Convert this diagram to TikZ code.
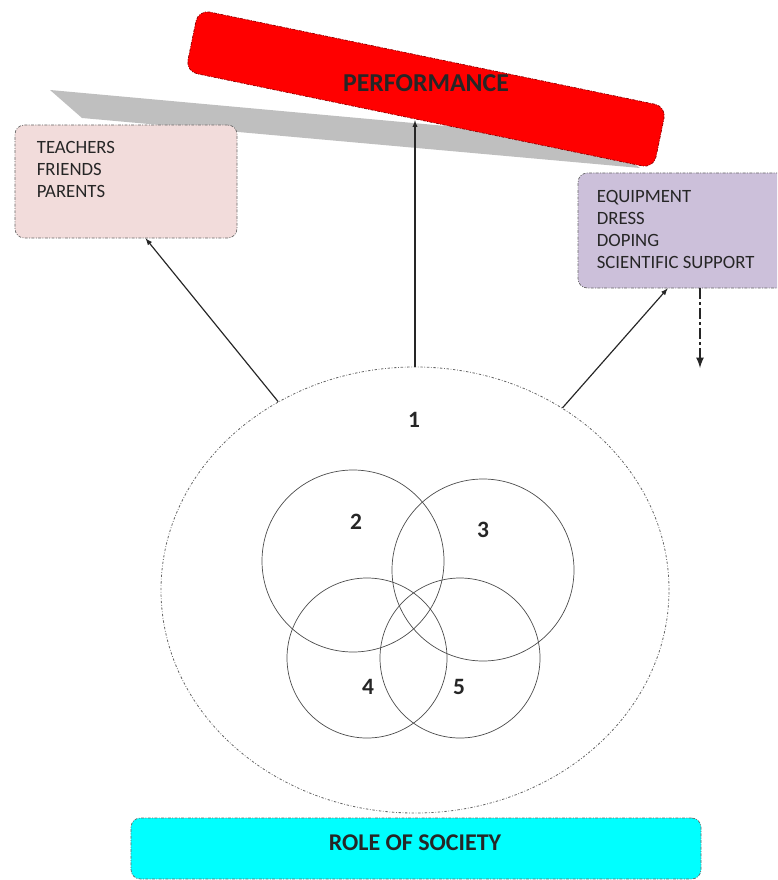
\documentclass[tikz,border=0pt]{standalone}
\usepackage{fontspec}
\setmainfont{Carlito}
\usetikzlibrary{shapes.geometric,arrows,positioning}

\definecolor{peerpink}{HTML}{F2DCDB}
\definecolor{gearlilac}{HTML}{CCC0DA}
\definecolor{plankgray}{HTML}{BFBFBF}
\definecolor{societycyan}{HTML}{00FFFF}

\begin{document}
\begin{tikzpicture}[x=0.03cm, y=-0.03cm]
    \tikzset{
        listbox/.style = {rectangle, draw=black!60, line width=0.6pt, dash pattern=on 2.5pt off 1.2pt on 0.8pt off 1.2pt, rounded corners=8pt, inner sep=0pt},
        listtext/.style = {inner sep=0pt, align=left, anchor=north west, font=\fontsize{16}{18.8}\selectfont, text=black!85},
        bigtext/.style = {inner sep=0pt, font=\fontsize{20}{24}\selectfont\bfseries, text=black!85},
        ring/.style = {circle, draw=black!70, line width=0.6pt, inner sep=0pt},
        line/.style = {draw=black!85, line width=1pt, -latex}
    }
    \clip (0,0) rectangle (777,880);

    % plank under the performance bar
    \fill[plankgray] (50,90) -- (600,140) -- (640,168) -- (82,118) -- cycle;

    \node[listbox, fill=red, draw=red!55!black, rotate=-11.7, minimum width=14.34cm, minimum height=1.89cm, rounded corners=10pt](perf) at (426,89) {};
    \node[bigtext, font=\fontsize{22}{26}\selectfont\bfseries](perftext) at (426,83) {PERFORMANCE};

    \node[listbox, fill=peerpink, minimum width=6.66cm, minimum height=3.39cm](peers) at (126,181.5) {};
    \node[listtext](peerstext)[below right = 0.48cm and 0.66cm of peers.north west]{TEACHERS\\FRIENDS\\PARENTS};

    \node[listbox, fill=gearlilac, minimum width=6.51cm, minimum height=3.45cm](gear) at (686.5,230.5) {};
    \node[listtext](geartext)[below right = 0.51cm and 0.57cm of gear.north west]{EQUIPMENT\\DRESS\\DOPING\\SCIENTIFIC SUPPORT};

    \node[listbox, fill=societycyan, minimum width=17.1cm, minimum height=1.83cm](society) at (416,848.5) {};
    \node[bigtext, font=\fontsize{20.5}{24}\selectfont\bfseries](societytext) at (415,843) {ROLE OF SOCIETY};

    \node[ellipse, draw=black!60, line width=0.7pt, dash pattern=on 2pt off 1.5pt on 0.6pt off 1.5pt, minimum width=15.24cm, minimum height=13.38cm](core) at (415,590) {};
    \node[bigtext](l_1) at (414,420) {1};

    \node[ring, minimum size=5.46cm](c_2) at (353,561) {};
    \node[ring, minimum size=5.46cm](c_3) at (483,570) {};
    \node[ring, minimum size=4.8cm](c_4) at (367,658) {};
    \node[ring, minimum size=4.8cm](c_5) at (460,658) {};

    \node[bigtext](l_2) at (356,522) {2};
    \node[bigtext](l_3) at (483,530) {3};
    \node[bigtext](l_4) at (368,687) {4};
    \node[bigtext](l_5) at (459,687) {5};

    \path [line] (core.north) -- (core.north |- perf.south);
    \path [line] (core.126) -- (peers.-71);
    \path [line] (core.51) -- (gear.-108);

    \coordinate (drop) at (700,368);
    \draw[black!85, line width=2pt, dash pattern=on 9pt off 3pt on 2pt off 3pt, -latex] (drop |- gear.south) -- (drop);

\end{tikzpicture}
\end{document}
